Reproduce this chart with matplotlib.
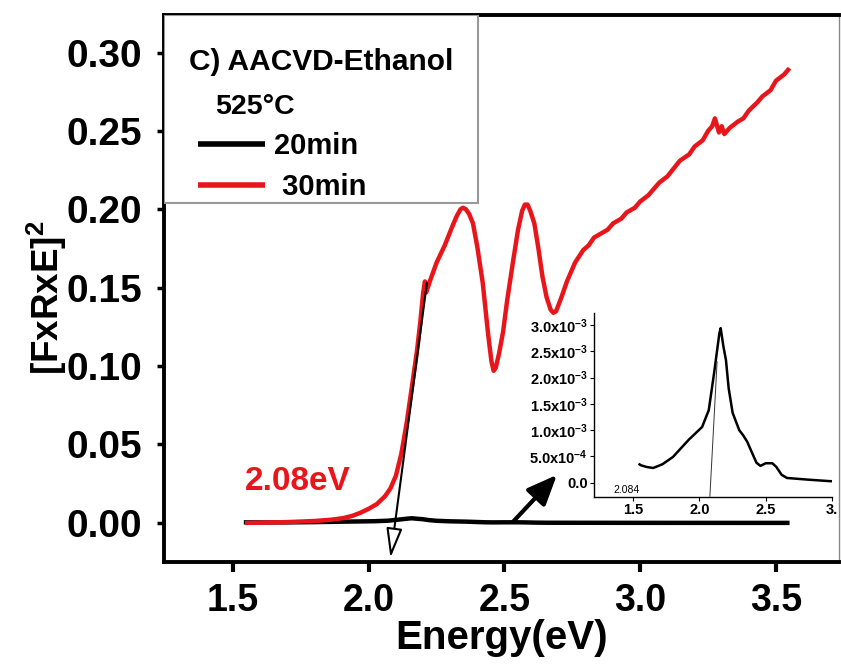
import matplotlib
matplotlib.use('Agg')
import matplotlib.pyplot as plt
from matplotlib.patches import Rectangle, FancyArrowPatch

plt.rcParams['font.family'] = ['Liberation Sans', 'DejaVu Sans']
plt.rcParams['font.weight'] = 'bold'
plt.rcParams['mathtext.fontset'] = 'custom'
plt.rcParams['mathtext.rm'] = 'Liberation Sans'
plt.rcParams['mathtext.bf'] = 'Liberation Sans:bold'
plt.rcParams['mathtext.default'] = 'bf'
plt.rcParams['lines.solid_joinstyle'] = 'round'
plt.rcParams['lines.solid_capstyle'] = 'butt'

RED = '#e8161b'

# 20 min film: Kubelka-Munk [F(R)xE]^2 vs photon energy
energy_20 = [1.54, 1.56, 1.60, 1.65, 1.72, 1.80, 1.92, 2.02, 2.07, 2.11, 2.15,
             2.16, 2.18, 2.20, 2.22, 2.25, 2.30, 2.33, 2.36, 2.40, 2.43, 2.46,
             2.50, 2.55, 2.58, 2.62, 2.66, 2.81, 2.98, 3.20, 3.40, 3.55]
signal_20 = [0.36e-3, 0.33e-3, 0.30e-3, 0.28e-3, 0.35e-3, 0.49e-3, 0.82e-3,
             1.06e-3, 1.38e-3, 2.08e-3, 2.84e-3, 2.94e-3, 2.60e-3, 2.33e-3,
             1.80e-3, 1.33e-3, 1.00e-3, 0.90e-3, 0.78e-3, 0.55e-3, 0.38e-3,
             0.32e-3, 0.37e-3, 0.37e-3, 0.30e-3, 0.15e-3, 0.09e-3, 0.06e-3,
             0.03e-3, 0.01e-3, 0.0, 0.0]

# 30 min film
energy_30 = [1.544, 1.70, 1.80, 1.86, 1.905, 1.94, 1.97, 2.00, 2.03, 2.06, 2.08,
             2.10, 2.12, 2.14, 2.16, 2.178, 2.19, 2.20, 2.207, 2.212, 2.225,
             2.25, 2.28, 2.31, 2.325, 2.338, 2.347, 2.358, 2.37, 2.384, 2.40,
             2.42, 2.44, 2.452, 2.46, 2.468, 2.48, 2.495, 2.51, 2.53, 2.55,
             2.565, 2.575, 2.585, 2.595, 2.61, 2.625, 2.64, 2.655, 2.67, 2.68,
             2.69, 2.71, 2.73, 2.76, 2.79, 2.81, 2.83, 2.86, 2.88, 2.90, 2.93,
             2.95, 2.98, 3.00, 3.03, 3.07, 3.10, 3.146, 3.18, 3.20, 3.23, 3.25,
             3.265, 3.275, 3.285, 3.29, 3.30, 3.31, 3.33, 3.36, 3.38, 3.40,
             3.43, 3.45, 3.48, 3.50, 3.53, 3.55]
signal_30 = [0.000, 0.0005, 0.0012, 0.002, 0.003, 0.0045, 0.0065, 0.009, 0.012,
             0.017, 0.022, 0.030, 0.044, 0.064, 0.088, 0.110, 0.128, 0.146,
             0.154, 0.147, 0.154, 0.166, 0.177, 0.190, 0.196, 0.200, 0.201,
             0.200, 0.197, 0.191, 0.176, 0.153, 0.120, 0.103, 0.097, 0.099,
             0.108, 0.122, 0.142, 0.165, 0.187, 0.199, 0.203, 0.203, 0.199,
             0.191, 0.175, 0.157, 0.144, 0.136, 0.134, 0.135, 0.144, 0.154,
             0.166, 0.174, 0.177, 0.182, 0.185, 0.187, 0.191, 0.194, 0.198,
             0.201, 0.205, 0.209, 0.217, 0.221, 0.231, 0.235, 0.240, 0.244,
             0.250, 0.253, 0.258, 0.252, 0.249, 0.253, 0.248, 0.252, 0.256,
             0.258, 0.263, 0.268, 0.272, 0.276, 0.282, 0.286, 0.290]

band_gap_30 = 2.08
band_gap_20 = 2.084

x_ticks = [1.5, 2.0, 2.5, 3.0, 3.5]
y_ticks = [0.00, 0.05, 0.10, 0.15, 0.20, 0.25, 0.30]
inset_x_ticks = [1.5, 2.0, 2.5, 3.0]
inset_x_labels = ['1.5', '2.0', '2.5', '3.']
inset_y_ticks = [0.0, 0.5e-3, 1.0e-3, 1.5e-3, 2.0e-3, 2.5e-3, 3.0e-3]
inset_y_labels = ['0.0', r'5.0x10$^{-4}$', r'1.0x10$^{-3}$', r'1.5x10$^{-3}$',
                  r'2.0x10$^{-3}$', r'2.5x10$^{-3}$', r'3.0x10$^{-3}$']

fig = plt.figure(figsize=(8.41, 6.65), dpi=100)
ax = fig.add_axes([0.195, 0.155, 0.8026, 0.8226])

l20, = ax.plot(energy_20, signal_20, color='black', lw=3.2, zorder=2)
l30, = ax.plot(energy_30, signal_30, color=RED, lw=3.2, zorder=3)

ax.set_xlim(1.246, 3.732)
ax.set_ylim(-0.0249, 0.324)
ax.set_xticks(x_ticks)
ax.set_xticklabels(['%.1f' % t for t in x_ticks])
ax.set_yticks(y_ticks)
ax.set_yticklabels(['%.2f' % t for t in y_ticks])
ax.tick_params(axis='x', direction='out', length=7, width=3, pad=8, labelsize=27)
ax.tick_params(axis='y', direction='out', length=5, width=2.5, pad=11, labelsize=28)
for side in ('left', 'bottom', 'top'):
    ax.spines[side].set_linewidth(2.8)
ax.spines['right'].set_linewidth(1.0)
ax.spines['right'].set_color('#888888')

ax.set_xlabel('Energy(eV)', fontsize=29, fontweight='bold')
ax.xaxis.set_label_coords(0.5, -0.105)
ax.set_ylabel('[FxRxE]$^2$', fontsize=26.5, fontweight='bold')
ax.yaxis.set_label_coords(-0.14, 0.482)

# legend panel
ax.add_patch(Rectangle((0, 0.656), 0.465, 0.344, transform=ax.transAxes,
                       fc='white', ec='#999999', lw=1.5, zorder=4))
ax.text(0.037, 0.899, 'C) AACVD-Ethanol', transform=ax.transAxes,
        fontsize=21.5, fontweight='bold', va='baseline', zorder=6)
ax.text(0.0756, 0.819, '525°C', transform=ax.transAxes,
        fontsize=20.5, fontweight='bold', va='baseline', zorder=6)
leg = ax.legend(handles=[l20, l30], labels=['20min', ' 30min'],
                loc='upper left', bbox_to_anchor=(0.0504, 0.786),
                bbox_transform=ax.transAxes, frameon=False, borderpad=0,
                borderaxespad=0, handlelength=2.3, handletextpad=0.3,
                labelspacing=0.46,
                prop=dict(family='Liberation Sans', weight='bold', size=21))
for h in leg.legend_handles:
    h.set_linewidth(4)
leg.set_zorder(6)

ax.text(1.544, 0.021, '%.2feV' % band_gap_30, color=RED, fontsize=24,
        fontweight='bold', va='baseline', zorder=5)

# arrow from the absorption edge down to the band gap
ax.add_patch(FancyArrowPatch((2.2145, 0.1532), (band_gap_30, -0.0223),
                             arrowstyle='-|>,head_length=1.3,head_width=0.35',
                             mutation_scale=14, lw=1.5, ec='black', fc='white',
                             shrinkA=0, shrinkB=0, zorder=5))
# arrow pointing from the 20 min curve to the zoomed inset
ax.add_patch(FancyArrowPatch((2.531, 0.0006), (2.693, 0.0306),
                             arrowstyle='-|>,head_length=1.3,head_width=0.55',
                             mutation_scale=14, lw=3, color='black',
                             shrinkA=0, shrinkB=0, zorder=5))

# inset: 20 min curve on its own scale
axi = fig.add_axes([0.7063, 0.2531, 0.283, 0.2767])
axi.patch.set_alpha(0)
axi.plot(energy_20, signal_20, color='black', lw=1.8)
axi.set_xlim(1.204, 3.0)
axi.set_ylim(-0.266e-3, 3.234e-3)
for side in ('top', 'right'):
    axi.spines[side].set_visible(False)
for side in ('left', 'bottom'):
    axi.spines[side].set_linewidth(1.0)
axi.set_xticks(inset_x_ticks)
axi.set_xticklabels(inset_x_labels)
axi.set_yticks(inset_y_ticks)
axi.set_yticklabels(inset_y_labels)
axi.tick_params(axis='both', direction='out', length=3, width=0.8, pad=1.5,
                labelsize=10.5)

# tangent to the absorption edge, crossing zero at the band gap
slope = 1.65e-3 / 0.035
e_lo = band_gap_20 + (-0.266e-3) / slope
e_hi = 2.133
axi.plot([e_lo, e_hi], [slope * (e_lo - band_gap_20), slope * (e_hi - band_gap_20)],
         color='#333333', lw=0.7)
axi.text(1.347, -0.196e-3, '%.3f' % band_gap_20, fontsize=7.5,
         fontweight='normal', va='baseline')

fig.savefig('out.png', dpi=100)
